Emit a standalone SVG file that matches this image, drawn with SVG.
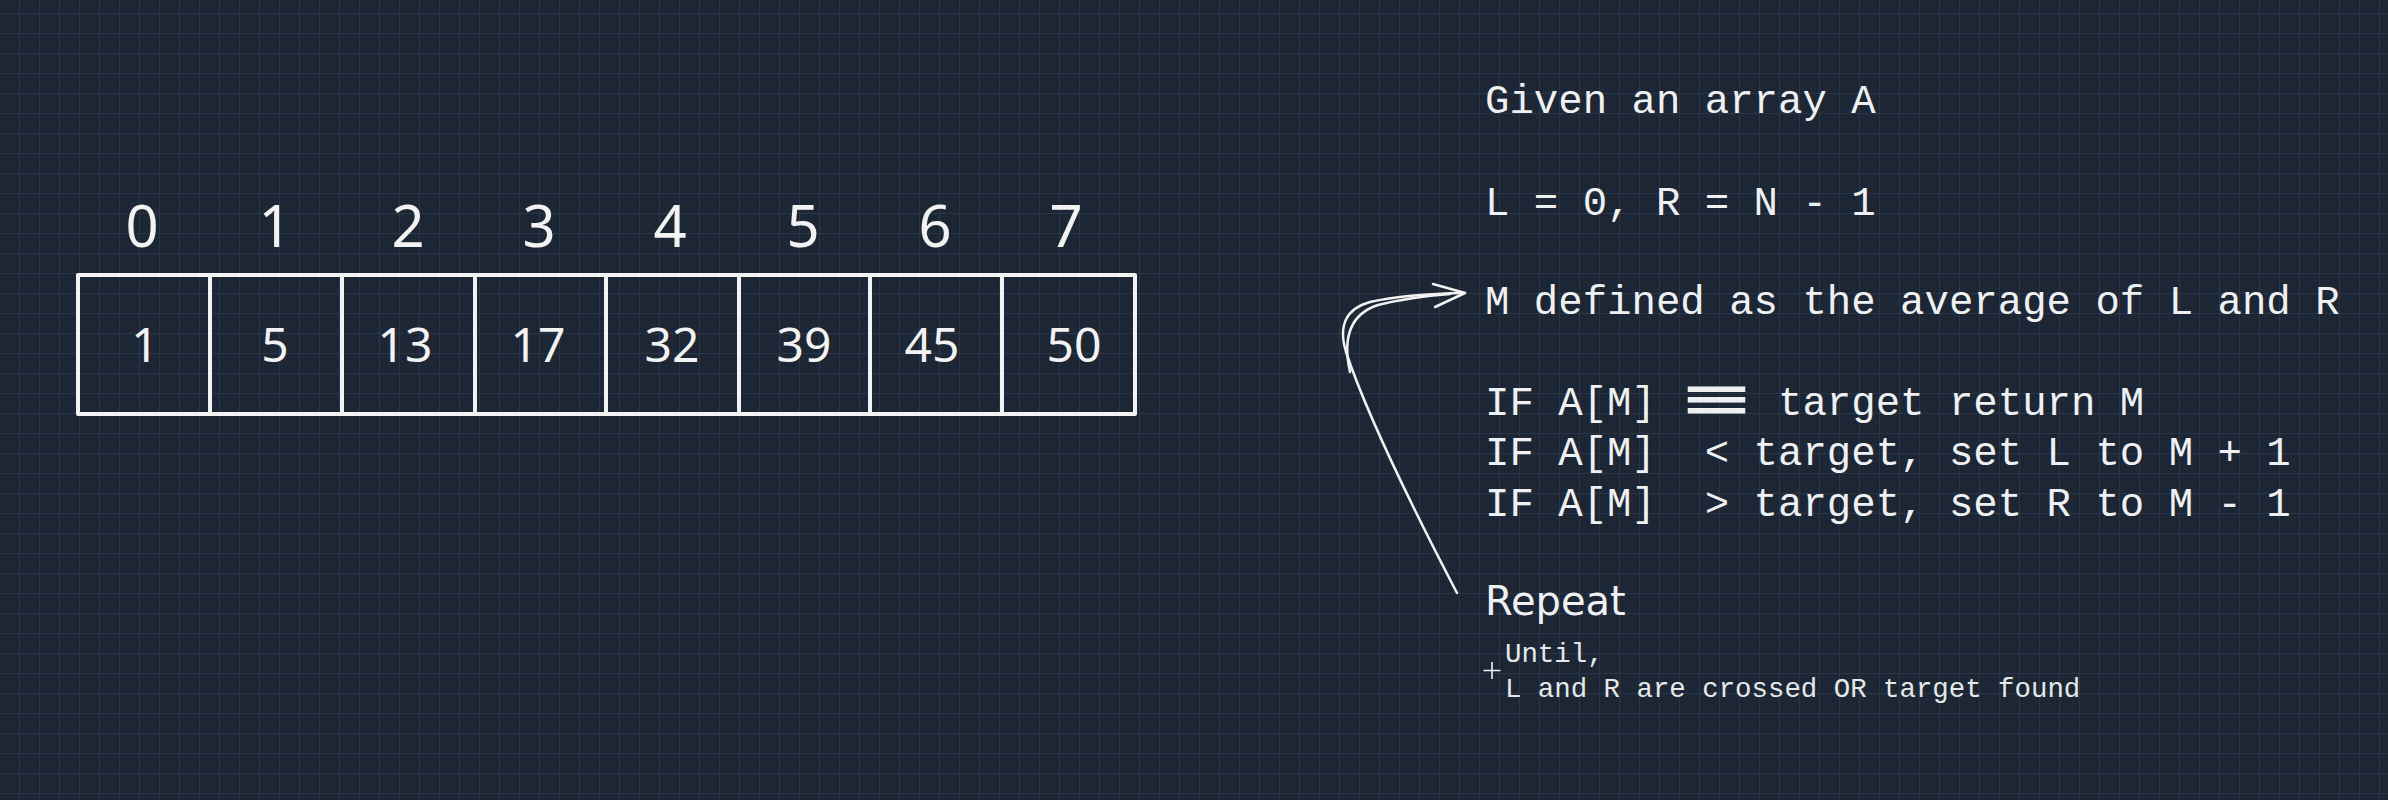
<svg xmlns="http://www.w3.org/2000/svg" width="2388" height="800" viewBox="0 0 2388 800">
<defs>
<pattern id="grid" x="19" y="13" width="20" height="20" patternUnits="userSpaceOnUse">
<path d="M0 0H20M0 0V20" fill="none" stroke="#2e3b4b" stroke-width="1.5"/>
</pattern>
<style>
.cell{fill:none;stroke:#f2f2f2;stroke-width:4;stroke-linejoin:round}
.hand{font-family:"Noto Sans","DejaVu Sans",sans-serif;fill:#f2f2f2;text-anchor:middle}
.idx{font-size:58px}
.val{font-size:48px}
.mono{font-family:"Liberation Mono","DejaVu Sans Mono",monospace;font-size:40.7px;fill:#eef0f2;white-space:pre}
.lig{font-family:"DejaVu Sans Mono","Liberation Mono",monospace;font-size:48px;font-weight:bold}
.small{font-family:"Liberation Mono","DejaVu Sans Mono",monospace;font-size:27.4px;fill:#e6e8ea}
.sans{font-family:"DejaVu Sans","Liberation Sans",sans-serif;font-size:40px;fill:#eef0f2}
.conn{fill:none;stroke:#f2f2f2;stroke-width:2.5;stroke-linecap:round;stroke-linejoin:round}
</style>
</defs>
<rect width="2388" height="800" fill="#1c2634"/>
<rect width="2388" height="800" fill="url(#grid)"/>

<g id="array">
<g id="cell0"><rect class="cell" x="78" y="275" width="132" height="139"/><text class="hand idx" x="142" y="247">0</text><text class="hand val" x="145" y="362">1</text></g>
<g id="cell1"><rect class="cell" x="210" y="275" width="132" height="139"/><text class="hand idx" x="275" y="247">1</text><text class="hand val" x="275" y="362">5</text></g>
<g id="cell2"><rect class="cell" x="342" y="275" width="133" height="139"/><text class="hand idx" x="408" y="247">2</text><text class="hand val" x="405" y="362">13</text></g>
<g id="cell3"><rect class="cell" x="475" y="275" width="131" height="139"/><text class="hand idx" x="539" y="247">3</text><text class="hand val" x="538" y="362">17</text></g>
<g id="cell4"><rect class="cell" x="606" y="275" width="133" height="139"/><text class="hand idx" x="670" y="247">4</text><text class="hand val" x="672" y="362">32</text></g>
<g id="cell5"><rect class="cell" x="739" y="275" width="131" height="139"/><text class="hand idx" x="803" y="247">5</text><text class="hand val" x="804" y="362">39</text></g>
<g id="cell6"><rect class="cell" x="870" y="275" width="132" height="139"/><text class="hand idx" x="935" y="247">6</text><text class="hand val" x="932" y="362">45</text></g>
<g id="cell7"><rect class="cell" x="1002" y="275" width="133" height="139"/><text class="hand idx" x="1066" y="247">7</text><text class="hand val" x="1074" y="362">50</text></g>
</g>

<g id="given"><text class="mono" x="1485" y="113">Given an array A</text></g>
<g id="init"><text class="mono" x="1485" y="215">L = 0, R = N - 1</text></g>
<g id="mid"><text class="mono" x="1485" y="314">M defined as the average of L and R</text></g>
<g id="conditions">
<text class="mono" x="1485" y="415" xml:space="preserve">IF A[M] <tspan class="lig" x="1683" textLength="67" lengthAdjust="spacingAndGlyphs">≡</tspan><tspan x="1778">target return M</tspan></text>
<text class="mono" x="1485" y="465" xml:space="preserve">IF A[M]  &lt; target, set L to M + 1</text>
<text class="mono" x="1485" y="516" xml:space="preserve">IF A[M]  &gt; target, set R to M - 1</text>
</g>
<g id="repeat"><text class="sans" x="1485" y="615">Repeat</text></g>
<g id="until">
<text class="small" x="1505" y="662">Until,</text>
<text class="small" x="1505" y="697">L and R are crossed OR target found</text>
</g>
<g id="cursor">
<path d="M1492 662V679M1483.5 670.5H1500.5" stroke="#1b2533" stroke-width="4" stroke-linecap="square"/>
<path d="M1492 662V679M1483.5 670.5H1500.5" stroke="#f2f2f2" stroke-width="1.6"/>
</g>

<g id="connectors">
<path class="conn" d="M1457 593 Q1372 430 1346 352 Q1334 312 1370 302 Q1405 294 1465 293"/>
<path class="conn" stroke-width="1.6" d="M1350 372 Q1338 318 1378 305 Q1410 297 1450 294"/>
<path class="conn" d="M1433 284 L1465 293 L1435 307"/>
</g>
</svg>
